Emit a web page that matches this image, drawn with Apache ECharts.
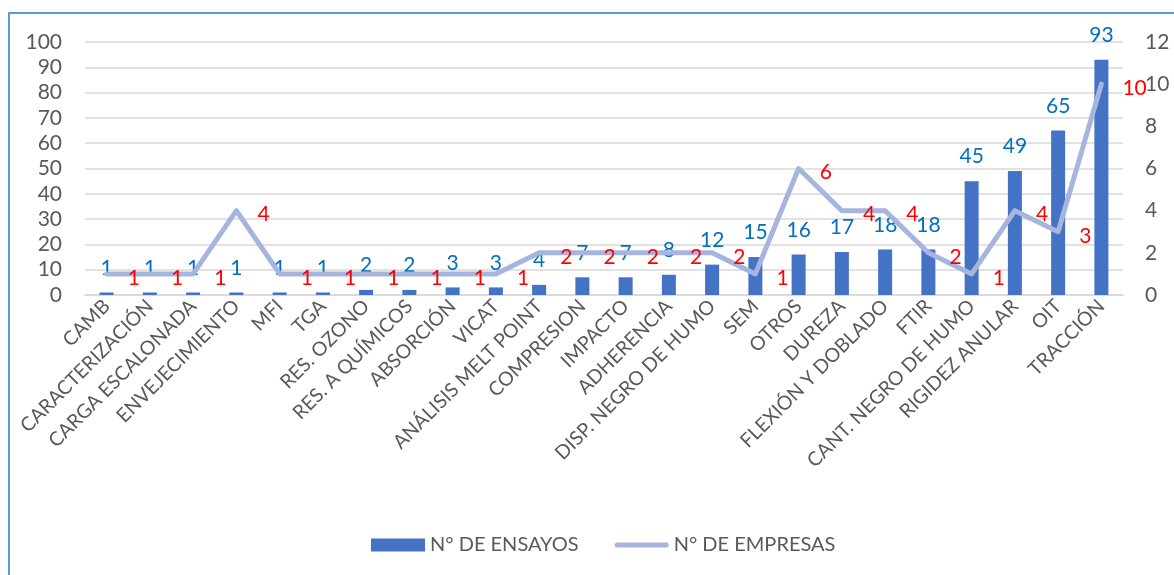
<!DOCTYPE html>
<html><head><meta charset="utf-8">
<script src="https://cdn.jsdelivr.net/npm/echarts@6/dist/echarts.min.js"></script>
<style>
html,body{margin:0;padding:0;background:#fff;overflow:hidden}
#frame{position:absolute;left:8px;top:12px;width:1200px;height:600px;border-left:2px solid #5B9BD5;border-top:2px solid #5B9BD5}
#c{position:absolute;left:0;top:0;width:1174px;height:575px}
</style></head>
<body>
<div id="frame"></div>
<div id="c"></div>
<script>
const categories = ["CAMB","CARACTERIZACIÓN","CARGA ESCALONADA","ENVEJECIMIENTO","MFI","TGA","RES. OZONO","RES. A QUÍMICOS","ABSORCIÓN","VICAT","ANÁLISIS MELT POINT","COMPRESION","IMPACTO","ADHERENCIA","DISP. NEGRO DE HUMO","SEM","OTROS","DUREZA","FLEXIÓN Y DOBLADO","FTIR","CANT. NEGRO DE HUMO","RIGIDEZ ANULAR","OIT","TRACCIÓN"];
const ensayos = [1,1,1,1,1,1,2,2,3,3,4,7,7,8,12,15,16,17,18,18,45,49,65,93];
const empresas = [1,1,1,4,1,1,1,1,1,1,2,2,2,2,2,1,6,4,4,2,1,4,3,10];
const seriesNames = ["N° DE ENSAYOS","N° DE EMPRESAS"];

const FONT = 'Lato';
const chart = echarts.init(document.getElementById('c'), null, {renderer:'canvas'});
chart.setOption({
  backgroundColor: 'transparent',
  animation: false,
  textStyle: {fontFamily: FONT},
  grid: {left: 85, right: 51, top: 42, bottom: 280, containLabel: false},
  legend: {
    data: [
      {name: seriesNames[0], icon: 'rect'},
      {name: seriesNames[1], icon: 'path://M2.5,0 H51.5 A2.5,2.5 0 0 1 51.5,5 H2.5 A2.5,2.5 0 0 1 2.5,0 Z'}
    ],
    left: 366, top: 530,
    itemWidth: 54, itemHeight: 13, itemGap: 36,
    textStyle: {fontFamily: FONT, fontSize: 20, color: '#595959', padding:[0,0,0,0]}
  },
  xAxis: {
    type: 'category', data: categories,
    axisLine: {show: true, lineStyle: {color: '#D9D9D9', width: 1.5}},
    axisTick: {show: false},
    axisLabel: {rotate: 45, interval: 0, fontFamily: FONT, fontSize: 19.5, color: '#595959', margin: 8}
  },
  yAxis: [
    {type: 'value', min: 0, max: 100, interval: 10,
     axisLabel: {fontFamily: FONT, fontSize: 21, color: '#595959', margin: 23},
     splitLine: {lineStyle: {color: '#D9D9D9', width: 1.5}},
     axisLine: {show: false}, axisTick: {show: false}},
    {type: 'value', min: 0, max: 12, interval: 2, position: 'right',
     axisLabel: {fontFamily: FONT, fontSize: 21, color: '#595959', margin: 22},
     splitLine: {show: false}, axisLine: {show: false}, axisTick: {show: false}}
  ],
  series: [
    {name: seriesNames[0], type: 'bar', data: ensayos, barWidth: 14, yAxisIndex: 0,
     itemStyle: {color: '#4472C4'},
     label: {show: true, position: 'top', distance: 14, color: '#0070C0', fontFamily: FONT, fontSize: 21}},
    {name: seriesNames[1], type: 'line', data: empresas, yAxisIndex: 1,
     symbol: 'circle', symbolSize: 2, showSymbol: true,
     lineStyle: {color: '#A6B5DD', width: 5, cap: 'round', join: 'round'},
     itemStyle: {color: '#A6B5DD'},
     label: {show: true, position: 'right', distance: 20, offset:[0,4], color: '#FF0000', fontFamily: FONT, fontSize: 21},
     z: 3}
  ]
});
</script>
</body></html>
